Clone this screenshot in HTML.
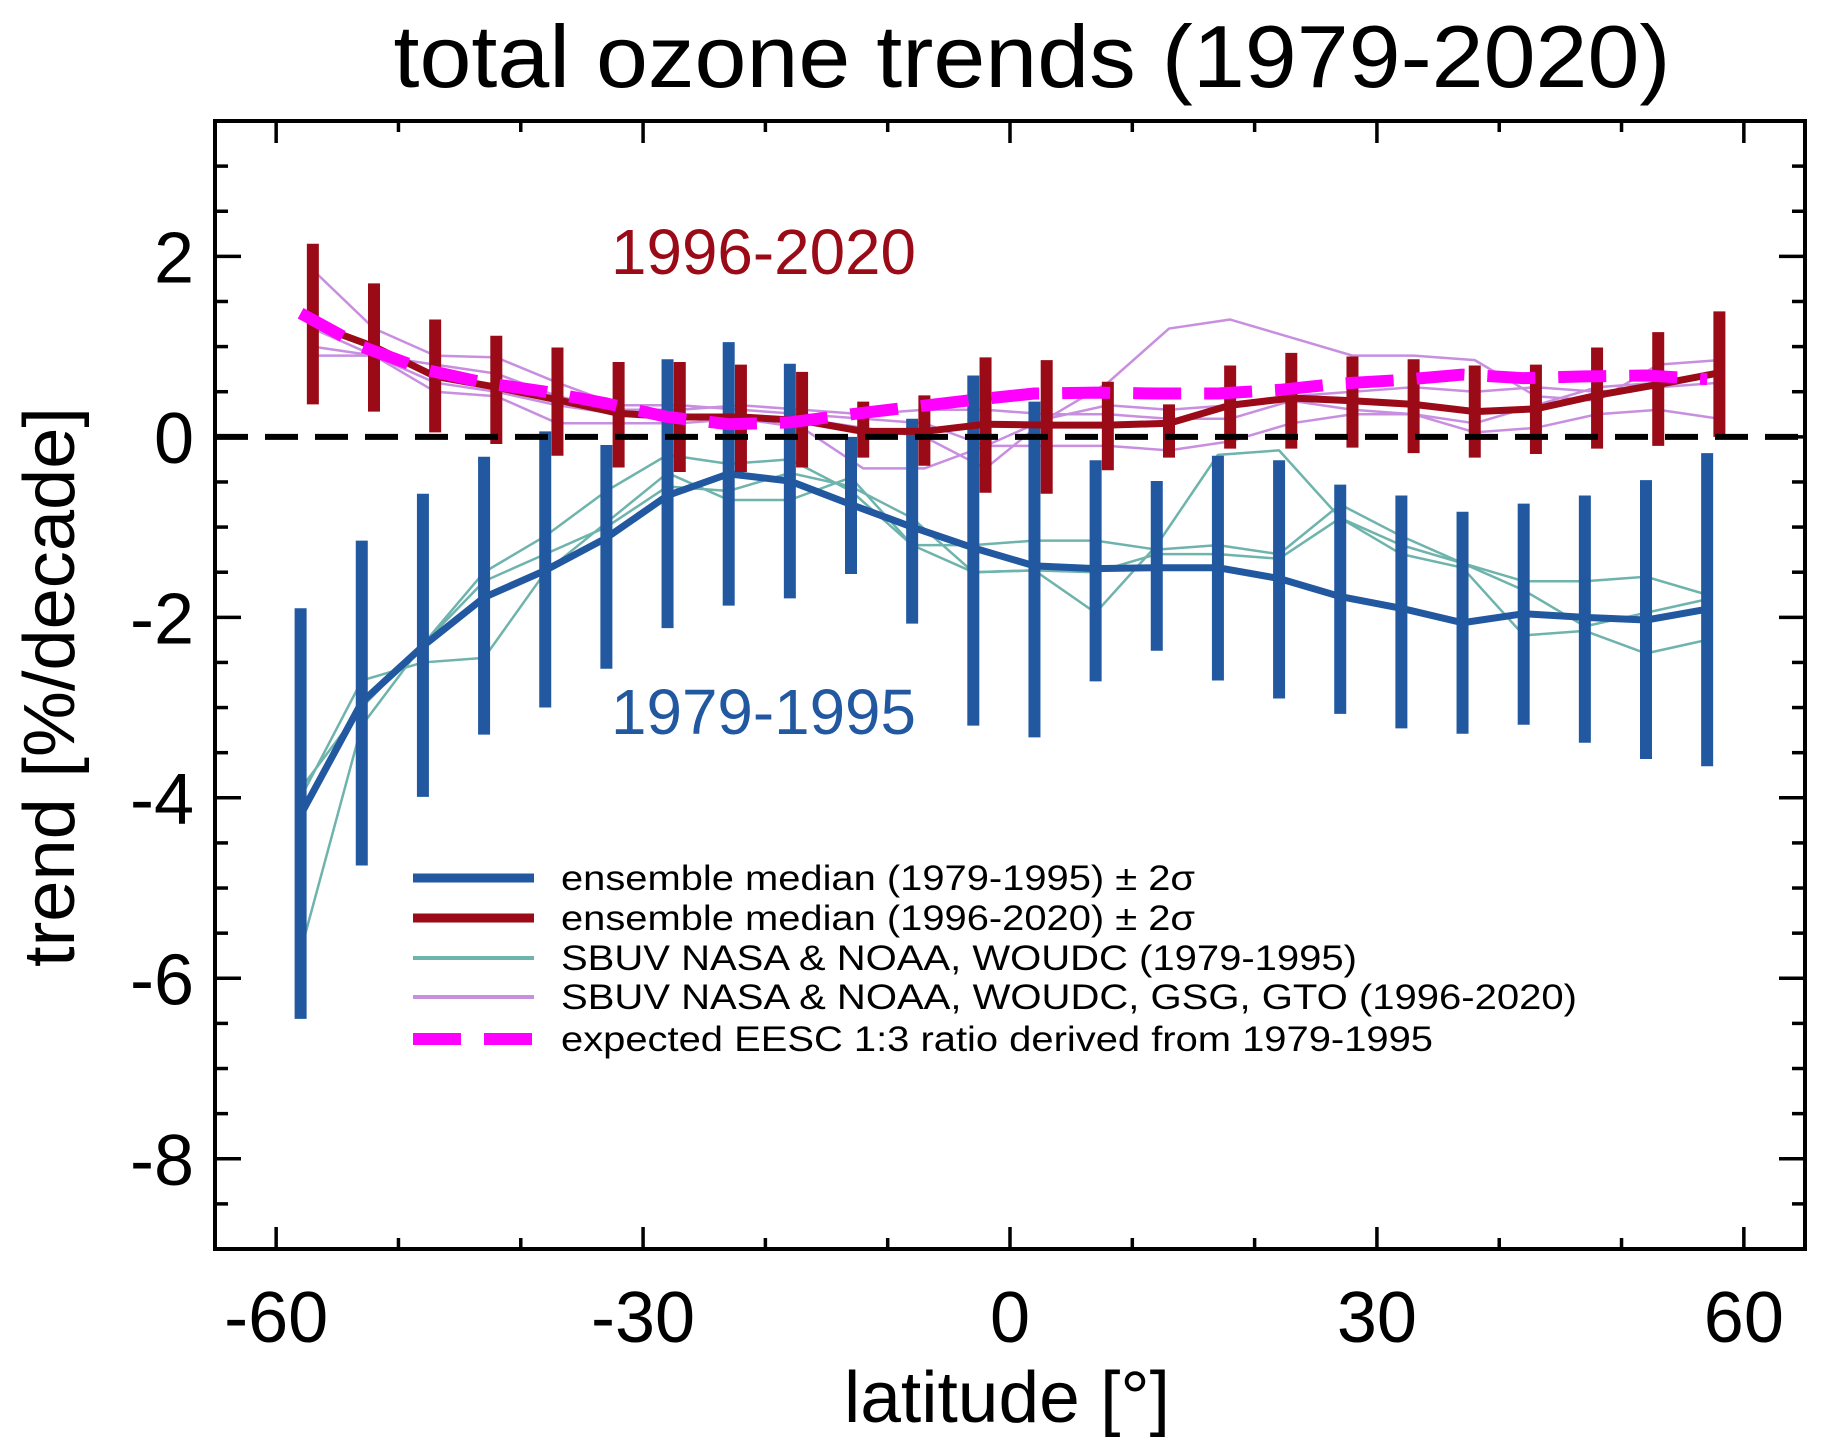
<!DOCTYPE html>
<html><head><meta charset="utf-8"><style>
html,body{margin:0;padding:0;background:#fff;}
svg{display:block;font-family:"Liberation Sans",Arial,sans-serif;}
</style></head><body>
<svg id="chart" width="1826" height="1456" viewBox="0 0 1826 1456" xmlns="http://www.w3.org/2000/svg">
<text x="1032" y="87" font-size="88" text-anchor="middle" textLength="1277" lengthAdjust="spacingAndGlyphs">total ozone trends (1979-2020)</text>
<g id="plot"></g>
<text x="1007" y="1422" font-size="72" text-anchor="middle" textLength="326" lengthAdjust="spacingAndGlyphs">latitude [°]</text>
<text transform="translate(74,687) rotate(-90)" font-size="72" text-anchor="middle" textLength="560" lengthAdjust="spacingAndGlyphs">trend [%/decade]</text>
<text x="611" y="274" font-size="64" fill="#9b0a17" textLength="305" lengthAdjust="spacingAndGlyphs">1996-2020</text>
<text x="611" y="734" font-size="64" fill="#2158a0" textLength="305" lengthAdjust="spacingAndGlyphs">1979-1995</text>
<g>
<line x1="413" y1="878" x2="534" y2="878" stroke="#2158a0" stroke-width="9"/>
<text x="561" y="890" font-size="35" textLength="634" lengthAdjust="spacingAndGlyphs">ensemble median (1979-1995) ± 2σ</text>
<line x1="413" y1="918" x2="534" y2="918" stroke="#9b0a17" stroke-width="9"/>
<text x="561" y="930" font-size="35" textLength="634" lengthAdjust="spacingAndGlyphs">ensemble median (1996-2020) ± 2σ</text>
<line x1="413" y1="958" x2="534" y2="958" stroke="#6fb3ad" stroke-width="4"/>
<text x="561" y="970" font-size="35" textLength="796" lengthAdjust="spacingAndGlyphs">SBUV NASA &amp; NOAA, WOUDC (1979-1995)</text>
<line x1="413" y1="997" x2="534" y2="997" stroke="#c88fe0" stroke-width="4"/>
<text x="561" y="1009" font-size="35" textLength="1016" lengthAdjust="spacingAndGlyphs">SBUV NASA &amp; NOAA, WOUDC, GSG, GTO (1996-2020)</text>
<line x1="413" y1="1039" x2="534" y2="1039" stroke="#ff00ff" stroke-width="12" stroke-dasharray="48,23"/>
<text x="561" y="1051" font-size="35" textLength="872" lengthAdjust="spacingAndGlyphs">expected EESC 1:3 ratio derived from 1979-1995</text>
</g>
</svg>
<script>
const blueLat=[-58,-53,-48,-43,-38,-33,-28,-23,-18,-13,-8,-3,2,7,12,17,22,27,32,37,42,47,52,57];
const redLat=[-57,-52,-47,-42,-37,-32,-27,-22,-17,-12,-7,-2,3,8,13,18,23,28,33,38,43,48,53,58];
const blueMedian=[-4.19,-2.94,-2.32,-1.78,-1.48,-1.12,-0.65,-0.41,-0.49,-0.75,-1.0,-1.23,-1.43,-1.46,-1.45,-1.45,-1.57,-1.77,-1.9,-2.06,-1.96,-2.0,-2.03,-1.91];
const blueHi=[-1.9,-1.15,-0.63,-0.22,0.06,-0.09,0.86,1.05,0.81,0.0,0.2,0.68,0.39,-0.26,-0.49,-0.21,-0.26,-0.53,-0.65,-0.83,-0.74,-0.65,-0.48,-0.18];
const blueLo=[-6.45,-4.75,-3.99,-3.3,-3.0,-2.57,-2.12,-1.87,-1.79,-1.52,-2.07,-3.2,-3.33,-2.71,-2.37,-2.7,-2.9,-3.07,-3.23,-3.29,-3.19,-3.39,-3.57,-3.65];
const redMedian=[1.25,1.0,0.67,0.55,0.41,0.26,0.22,0.22,0.18,0.06,0.06,0.14,0.13,0.13,0.15,0.35,0.43,0.4,0.36,0.28,0.31,0.46,0.58,0.71];
const redHi=[2.14,1.7,1.3,1.12,0.99,0.83,0.83,0.8,0.72,0.39,0.46,0.88,0.85,0.61,0.36,0.79,0.93,0.89,0.86,0.79,0.8,0.99,1.16,1.39];
const redLo=[0.36,0.28,0.05,-0.08,-0.21,-0.34,-0.39,-0.39,-0.34,-0.23,-0.32,-0.62,-0.63,-0.37,-0.23,-0.13,-0.13,-0.12,-0.18,-0.23,-0.19,-0.13,-0.1,0.0];
const eescExpected=[1.37,1.0,0.75,0.6,0.5,0.37,0.22,0.14,0.16,0.25,0.33,0.41,0.48,0.49,0.48,0.48,0.52,0.59,0.63,0.69,0.65,0.67,0.68,0.64];
const teal1=[-5.7,-3.2,-2.3,-1.5,-1.1,-0.6,-0.2,-0.3,-0.25,-0.6,-1.2,-1.5,-1.48,-1.95,-1.2,-0.2,-0.15,-0.9,-1.2,-1.4,-1.6,-1.6,-1.55,-1.75];
const teal2=[-4.0,-2.7,-2.5,-2.45,-1.5,-0.95,-0.4,-0.7,-0.7,-0.45,-1.2,-1.2,-1.15,-1.15,-1.25,-1.2,-1.3,-0.75,-1.1,-1.4,-1.7,-2.1,-1.95,-1.8];
const teal3=[-3.9,-3.0,-2.3,-1.6,-1.3,-1.0,-0.55,-0.6,-0.4,-0.55,-0.9,-1.5,-1.48,-1.5,-1.3,-1.3,-1.35,-0.9,-1.3,-1.45,-2.2,-2.15,-2.4,-2.25];
const purple1=[1.85,1.2,0.9,0.88,0.6,0.35,0.35,0.3,0.25,0.2,0.15,-0.1,0.2,0.6,1.2,1.3,1.1,0.9,0.9,0.85,0.45,0.4,0.8,0.85];
const purple2=[1.2,0.9,0.8,0.7,0.45,0.3,0.3,0.35,0.3,0.25,0.3,0.3,0.25,0.25,0.2,0.2,0.4,0.3,0.25,0.15,0.35,0.55,0.6,0.7];
const purple3=[1.0,0.9,0.5,0.45,0.15,0.15,0.15,0.2,0.1,-0.35,-0.35,-0.1,-0.1,-0.1,-0.15,-0.05,0.15,0.25,0.25,0.05,0.1,0.25,0.3,0.2];
const purple4=[0.9,0.9,0.6,0.5,0.35,0.25,0.25,0.2,0.2,0.1,0.0,-0.35,0.2,0.35,0.3,0.35,0.45,0.5,0.55,0.5,0.55,0.5,0.55,0.6];
const xTicks=[-60,-30,0,30,60];
const yTicks=[-8,-6,-4,-2,0,2];

const L=215,R=1805,T=121,B=1249,XMIN=-65,XMAX=65,YMIN=-9,YMAX=3.5;
function xs(v){return L+(v-XMIN)/(XMAX-XMIN)*(R-L);}
function ys(v){return B-(v-YMIN)/(YMAX-YMIN)*(B-T);}
const NS='http://www.w3.org/2000/svg';
const g=document.getElementById('plot');
function mk(tag,at,parent){const e=document.createElementNS(NS,tag);for(const k in at)e.setAttribute(k,at[k]);(parent||g).appendChild(e);return e;}
function poly(lat,vals,color,w,name,dash){
  const e=mk('polyline',{points:lat.map((la,i)=>xs(la)+','+ys(vals[i])).join(' '),fill:'none',stroke:color,'stroke-width':w,'stroke-linejoin':'round'});
  if(dash)e.setAttribute('stroke-dasharray',dash);
  
  
}
[teal1,teal2,teal3].forEach((s,k)=>poly(blueLat,s,'#6fb3ad',2.5,'teal-line-'+(k+1)));
[purple1,purple2,purple3,purple4].forEach((s,k)=>poly(redLat,s,'#c88fe0',2.5,'purple-line-'+(k+1)));
blueLat.forEach((la,i)=>{
  const e=mk('line',{x1:xs(la),x2:xs(la),y1:ys(blueHi[i]),y2:ys(blueLo[i]),stroke:'#2158a0','stroke-width':12});
  
  
});
poly(blueLat,blueMedian,'#2158a0',7,'blue-median-line');
redLat.forEach((la,i)=>{
  const e=mk('line',{x1:xs(la),x2:xs(la),y1:ys(redHi[i]),y2:ys(redLo[i]),stroke:'#9b0a17','stroke-width':12});
  
  
});
poly(redLat,redMedian,'#9b0a17',7,'red-median-line');
poly(blueLat,eescExpected,'#ff00ff',12,'eesc-expected-line','48,23');
const z=mk('line',{x1:L,x2:R,y1:ys(0),y2:ys(0),stroke:'#000','stroke-width':6,'stroke-dasharray':'33,17'});


// ticks
for(let v=-60;v<=60;v+=10){
  const len=(v%30===0)?22:11;
  mk('line',{x1:xs(v),x2:xs(v),y1:B,y2:B-len,stroke:'#000','stroke-width':3.5});
  mk('line',{x1:xs(v),x2:xs(v),y1:T,y2:T+len,stroke:'#000','stroke-width':3.5});
}
for(let v=-9;v<=3.5;v+=0.5){
  const len=(Math.abs(v%2)<1e-9)?26:13;
  mk('line',{x1:L,x2:L+len,y1:ys(v),y2:ys(v),stroke:'#000','stroke-width':3.5});
  mk('line',{x1:R,x2:R-len,y1:ys(v),y2:ys(v),stroke:'#000','stroke-width':3.5});
}
xTicks.forEach(v=>{
  const t=mk('text',{x:xs(v),y:1342,'font-size':72,'text-anchor':'middle'});
  t.textContent=String(v);
  
  
});
yTicks.forEach(v=>{
  const t=mk('text',{x:194,y:ys(v)+26,'font-size':72,'text-anchor':'end'});
  t.textContent=String(v);
  
  
});
const fr=mk('rect',{x:L,y:T,width:R-L,height:B-T,fill:'none',stroke:'#000','stroke-width':4});


</script>
</body></html>
